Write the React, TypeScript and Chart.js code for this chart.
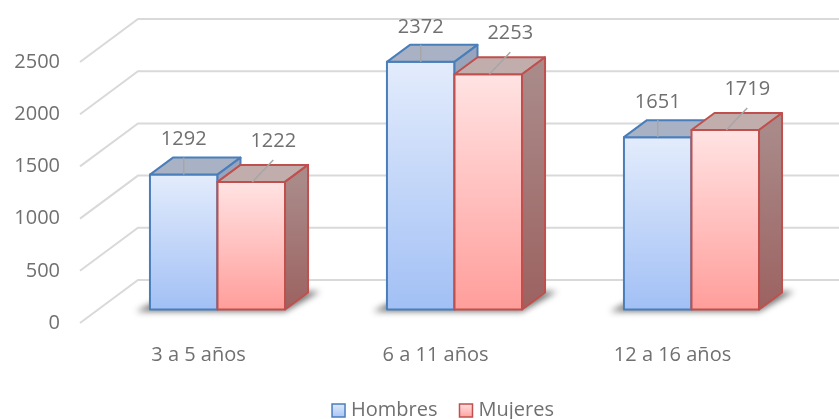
import React, { useEffect, useRef } from 'react';
import { Chart, registerables } from 'chart.js';

Chart.register(...registerables);

const categories = ['3 a 5 años', '6 a 11 años', '12 a 16 años'];
const seriesNames = ['Hombres', 'Mujeres'];
const hombres = [1292, 2372, 1651];
const mujeres = [1222, 2253, 1719];
const yTicks = [0, 500, 1000, 1500, 2000, 2500];

const FONT = "'Open Sans', 'DejaVu Sans', sans-serif";
const TEXT = '#707070';
const GRID_DX = 58;
const GRID_DY = -43;
const BAR_DX = 19;
const BAR_DY = -13.5;
const DEPTH_DX = 23;
const DEPTH_DY = -17;

const seriesStyles = [
  {
    border: '#4a7ebb',
    front: ['#e3ecfc', '#a2c0f5'],
    lid: '#a9b2c4',
    side: ['#98a4bb', '#7f8fb0'],
    legend: ['#dde8fb', '#a9c6f7'],
  },
  {
    border: '#c0504d',
    front: ['#ffe3e3', '#ff9e9b'],
    lid: '#c2adad',
    side: ['#a98a89', '#9c6260'],
    legend: ['#ffe0e0', '#ffa3a0'],
  },
];

function drawBar(ctx: CanvasRenderingContext2D, el: any, st: any) {
  const x0 = el.x - el.width / 2 + BAR_DX;
  const x1 = el.x + el.width / 2 + BAR_DX;
  const yT = el.y + BAR_DY;
  const yB = el.base + BAR_DY;
  ctx.save();
  ctx.lineWidth = 2;
  ctx.lineJoin = 'round';
  ctx.strokeStyle = st.border;
  const g = ctx.createLinearGradient(0, yT, 0, yB);
  g.addColorStop(0, st.front[0]);
  g.addColorStop(1, st.front[1]);
  ctx.fillStyle = g;
  ctx.beginPath();
  ctx.rect(x0, yT, x1 - x0, yB - yT);
  ctx.fill();
  ctx.stroke();
  ctx.fillStyle = st.lid;
  ctx.beginPath();
  ctx.moveTo(x0, yT);
  ctx.lineTo(x1, yT);
  ctx.lineTo(x1 + DEPTH_DX, yT + DEPTH_DY);
  ctx.lineTo(x0 + DEPTH_DX, yT + DEPTH_DY);
  ctx.closePath();
  ctx.fill();
  ctx.stroke();
  const sg = ctx.createLinearGradient(0, yT, 0, yB);
  sg.addColorStop(0, st.side[0]);
  sg.addColorStop(1, st.side[1]);
  ctx.fillStyle = sg;
  ctx.beginPath();
  ctx.moveTo(x1, yT);
  ctx.lineTo(x1 + DEPTH_DX, yT + DEPTH_DY);
  ctx.lineTo(x1 + DEPTH_DX, yB + DEPTH_DY);
  ctx.lineTo(x1, yB);
  ctx.closePath();
  ctx.fill();
  ctx.stroke();
  ctx.restore();
}

const gridPlugin = {
  id: 'grid3d',
  beforeDatasetsDraw(chart: any) {
    const { ctx, chartArea } = chart;
    const y = chart.scales.y;
    ctx.save();
    ctx.strokeStyle = '#d9d9d9';
    ctx.lineWidth = 2;
    for (const v of yTicks) {
      const py = y.getPixelForValue(v);
      ctx.beginPath();
      ctx.moveTo(chartArea.left, py);
      ctx.lineTo(chartArea.left + GRID_DX, py + GRID_DY);
      ctx.lineTo(chartArea.right + GRID_DX, py + GRID_DY);
      ctx.stroke();
    }
    ctx.restore();
  },
};

const bars3dPlugin = {
  id: 'bars3d',
  afterDatasetsDraw(chart: any) {
    const { ctx } = chart;
    const metas = chart.data.datasets.map((_: any, i: number) => chart.getDatasetMeta(i));
    const n = chart.data.labels.length;
    for (let i = 0; i < n; i++) {
      const first = metas[0].data[i];
      const last = metas[metas.length - 1].data[i];
      const x0 = first.x - first.width / 2 + BAR_DX;
      const x1 = last.x + last.width / 2 + BAR_DX;
      const yB = first.base + BAR_DY;
      ctx.save();
      ctx.filter = 'blur(3px)';
      ctx.fillStyle = 'rgba(0,0,0,0.55)';
      ctx.beginPath();
      ctx.moveTo(x0 - 14, yB + 2);
      ctx.lineTo(x1, yB + 2);
      ctx.lineTo(x1 + DEPTH_DX + 12, yB + DEPTH_DY - 1);
      ctx.lineTo(x0 + DEPTH_DX, yB + DEPTH_DY);
      ctx.closePath();
      ctx.fill();
      ctx.restore();
      metas.forEach((meta: any, d: number) => drawBar(ctx, meta.data[i], seriesStyles[d]));
    }
    ctx.save();
    ctx.font = `20px ${FONT}`;
    ctx.fillStyle = TEXT;
    ctx.strokeStyle = '#a6a6a6';
    ctx.lineWidth = 1.5;
    ctx.textAlign = 'center';
    ctx.textBaseline = 'middle';
    metas.forEach((meta: any, d: number) => {
      const values = chart.data.datasets[d].data;
      meta.data.forEach((el: any, i: number) => {
        const cx = el.x + BAR_DX;
        const top = el.y + BAR_DY;
        ctx.beginPath();
        if (d === 0) {
          ctx.moveTo(cx, top);
          ctx.lineTo(cx, top - 17);
          ctx.stroke();
          ctx.fillText(String(values[i]), cx, top - 35);
        } else {
          ctx.moveTo(cx + 1, top);
          ctx.lineTo(cx + 22, top - 22);
          ctx.stroke();
          ctx.fillText(String(values[i]), cx + 22, top - 41);
        }
      });
    });
    ctx.restore();
  },
};

const legendPlugin = {
  id: 'legendBottom',
  afterDraw(chart: any) {
    const { ctx } = chart;
    ctx.save();
    ctx.font = `20px ${FONT}`;
    const box = 13;
    const gap = 6;
    const spacing = 22;
    const names = chart.data.datasets.map((ds: any) => ds.label);
    const widths = names.map((t: string) => ctx.measureText(t).width);
    let total = 0;
    widths.forEach((w: number, i: number) => {
      total += box + gap + w + (i < widths.length - 1 ? spacing : 0);
    });
    let x = 443 - total / 2;
    const cy = 410;
    names.forEach((t: string, i: number) => {
      const st = seriesStyles[i];
      const g = ctx.createLinearGradient(0, cy - 6, 0, cy + 7);
      g.addColorStop(0, st.legend[0]);
      g.addColorStop(1, st.legend[1]);
      ctx.fillStyle = g;
      ctx.fillRect(x, cy - 6, box, box);
      ctx.strokeStyle = st.border;
      ctx.lineWidth = 1.5;
      ctx.strokeRect(x, cy - 6, box, box);
      ctx.fillStyle = TEXT;
      ctx.textAlign = 'left';
      ctx.textBaseline = 'middle';
      ctx.fillText(t, x + box + gap, cy);
      x += box + gap + widths[i] + spacing;
    });
    ctx.restore();
  },
};

export default function App() {
  const canvasRef = useRef<HTMLCanvasElement | null>(null);

  useEffect(() => {
    document.body.style.margin = '0';
    const canvas = canvasRef.current;
    if (!canvas) return;
    const chart = new Chart(canvas, {
      type: 'bar',
      data: {
        labels: categories,
        datasets: [
          { label: seriesNames[0], data: hombres, backgroundColor: 'rgba(0,0,0,0)', borderWidth: 0 },
          { label: seriesNames[1], data: mujeres, backgroundColor: 'rgba(0,0,0,0)', borderWidth: 0 },
        ],
      },
      options: {
        responsive: false,
        animation: false,
        devicePixelRatio: 1,
        layout: { padding: { top: 62, right: 48, left: 0, bottom: 0 } },
        datasets: { bar: { categoryPercentage: 0.57, barPercentage: 1 } },
        plugins: { legend: { display: false }, tooltip: { enabled: false } },
        scales: {
          x: {
            grid: { display: false, drawTicks: false },
            border: { display: false },
            ticks: { color: TEXT, font: { family: FONT, size: 20 }, padding: 20 },
            afterFit: (s: any) => {
              s.height = 96;
              s.paddingLeft = 0;
              s.paddingRight = 0;
            },
          },
          y: {
            min: 0,
            max: 2500,
            grid: { display: false, drawTicks: false },
            border: { display: false },
            ticks: {
              stepSize: 500,
              color: TEXT,
              font: { family: FONT, size: 20 },
              padding: 20,
              callback: (v: any) => String(v),
            },
            afterBuildTicks: (s: any) => {
              s.ticks = yTicks.map((v) => ({ value: v }));
            },
            afterFit: (s: any) => {
              s.width = 80;
              s.paddingTop = 0;
              s.paddingBottom = 0;
            },
          },
        },
      },
      plugins: [gridPlugin, bars3dPlugin, legendPlugin],
    });
    return () => chart.destroy();
  }, []);

  return (
    <div style={{ width: 839, height: 419, background: '#ffffff', overflow: 'hidden' }}>
      <canvas ref={canvasRef} width={839} height={419} style={{ display: 'block' }} />
    </div>
  );
}
